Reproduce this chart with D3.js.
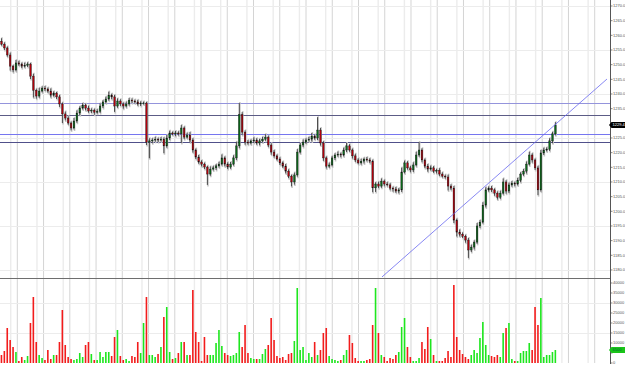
<!DOCTYPE html>
<html>
<head>
<meta charset="utf-8">
<script src="https://cdn.jsdelivr.net/npm/d3@7"></script>
<style>
    body { margin: 0; background: #fff; }
    svg { display: block; }
    .axis-label { font-family: "Liberation Sans", Arial, sans-serif; font-size: 4px; fill: #555; }
</style>
</head>
<body>
<div id="chart"></div>
<script>
(function () {
    'use strict';

    // closing prices, one per bar (open = previous close)
    var closes = [
        1257.0, 1255.7, 1253.3, 1249.5, 1248.2, 1250.6, 1250.2, 1249.5, 1249.8, 1250.2, 1246.1, 1241.3, 1239.3, 1241.0, 1242.0, 1241.7,
        1241.0, 1239.6, 1240.3, 1239.0, 1236.6, 1233.2, 1231.8, 1230.1, 1228.4, 1230.8, 1233.5, 1235.2, 1236.2, 1235.2, 1234.2, 1234.5,
        1233.8, 1234.1, 1235.9, 1237.3, 1238.3, 1239.6, 1239.0, 1235.9, 1237.6, 1236.6, 1235.9, 1236.6, 1237.9, 1237.6, 1237.3, 1236.6,
        1236.9, 1236.9, 1223.6, 1224.0, 1224.3, 1224.6, 1224.3, 1224.6, 1222.3, 1225.0, 1226.7, 1226.4, 1226.7, 1226.4, 1228.4, 1225.3,
        1226.0, 1224.3, 1220.9, 1218.5, 1216.8, 1216.1, 1215.1, 1212.7, 1214.4, 1214.8, 1215.5, 1216.1, 1218.2, 1216.1, 1215.1, 1216.1,
        1218.2, 1222.3, 1233.0, 1227.0, 1223.6, 1223.3, 1224.0, 1224.3, 1223.3, 1224.0, 1224.6, 1225.3, 1222.6, 1220.2, 1218.9, 1217.8,
        1216.5, 1215.4, 1213.7, 1212.0, 1210.0, 1212.4, 1220.2, 1222.6, 1223.6, 1224.3, 1224.6, 1225.6, 1225.0, 1227.7, 1223.3, 1218.2,
        1215.4, 1215.8, 1218.2, 1219.2, 1219.5, 1219.2, 1220.9, 1222.3, 1220.9, 1218.9, 1217.5, 1216.5, 1217.1, 1217.8, 1217.5, 1217.1,
        1208.0, 1209.3, 1208.6, 1210.3, 1209.3, 1209.0, 1207.9, 1207.6, 1206.9, 1207.3, 1213.4, 1216.5, 1214.8, 1214.1, 1215.8, 1219.2,
        1220.9, 1217.5, 1215.4, 1214.4, 1214.8, 1213.7, 1214.0, 1212.7, 1212.0, 1211.7, 1208.6, 1207.9, 1197.0, 1192.9, 1192.2, 1191.5,
        1190.2, 1186.8, 1187.8, 1189.5, 1195.0, 1196.3, 1202.1, 1207.3, 1207.9, 1207.3, 1206.2, 1204.8, 1206.2, 1210.0, 1206.9, 1209.0,
        1209.6, 1209.3, 1210.6, 1212.7, 1213.7, 1216.1, 1219.2, 1217.5, 1214.8, 1207.3, 1219.9, 1220.9, 1221.2, 1224.0, 1226.4, 1229.4
    ];
    var firstOpen = 1258.0;

    // wick length above the body / below the body, in price points
    var wickUp = [
        1.0, 0.6, 0.5, 0.8, 0.4, 1.0, 0.7, 0.5, 0.9, 0.6, 0.4, 0.8, 0.5, 1.1, 0.6, 0.7,
        0.5, 0.9, 0.6, 0.4, 0.7, 0.5, 0.8, 0.6, 0.5, 1.0, 0.9, 0.6, 0.7, 0.5, 0.8, 0.6,
        0.5, 0.7, 0.9, 0.6, 0.8, 1.2, 0.5, 0.7, 0.9, 0.6, 0.5, 0.8, 0.7, 0.6, 0.5, 0.7,
        0.6, 0.5, 0.4, 0.9, 0.6, 0.8, 0.5, 0.7, 0.6, 1.0, 0.8, 0.5, 0.7, 0.6, 1.0, 0.5,
        0.8, 1.0, 0.6, 0.5, 0.7, 0.6, 0.5, 0.4, 0.9, 0.7, 0.6, 0.8, 1.2, 0.5, 0.6, 0.7,
        0.9, 1.4, 3.9, 0.8, 0.6, 0.7, 0.5, 0.9, 0.6, 0.7, 0.8, 1.0, 0.5, 0.6, 0.7, 0.5,
        0.6, 0.5, 0.7, 0.6, 0.5, 0.8, 1.0, 0.7, 0.9, 0.6, 0.8, 1.1, 0.6, 4.4, 0.7, 0.6,
        0.5, 0.8, 0.7, 0.6, 0.9, 0.5, 0.8, 1.0, 0.6, 0.5, 0.7, 0.6, 0.8, 0.5, 0.7, 0.6,
        0.5, 0.6, 0.8, 0.9, 0.5, 0.7, 0.6, 0.5, 0.7, 0.6, 1.5, 0.8, 0.6, 0.7, 0.9, 1.1,
        2.7, 0.6, 0.5, 0.7, 0.8, 0.6, 0.5, 0.7, 0.6, 0.5, 0.8, 0.6, 0.7, 0.5, 0.9, 0.6,
        0.5, 0.7, 0.8, 0.6, 1.0, 0.7, 1.0, 0.9, 0.6, 0.7, 0.5, 0.6, 0.8, 1.2, 0.6, 0.8,
        0.7, 0.5, 0.8, 0.6, 0.7, 0.9, 1.1, 0.6, 0.5, 0.7, 1.0, 0.8, 0.6, 0.9, 0.7, 1.0
    ];
    var wickDown = [
        0.5, 0.7, 0.6, 1.5, 0.8, 0.5, 0.6, 0.7, 0.5, 0.6, 1.0, 2.5, 0.9, 0.6, 0.5, 0.7,
        0.6, 0.8, 0.5, 0.7, 1.0, 3.1, 0.8, 0.6, 0.8, 0.5, 0.6, 0.7, 0.5, 0.8, 0.6, 0.7,
        0.9, 0.5, 0.6, 0.7, 0.5, 0.6, 0.8, 2.0, 0.6, 0.7, 0.9, 0.5, 0.6, 0.7, 0.5, 0.6,
        0.7, 0.5, 1.0, 5.5, 0.8, 0.6, 0.7, 0.5, 2.5, 0.6, 0.7, 0.5, 0.8, 0.6, 3.1, 0.7,
        0.5, 0.8, 0.9, 0.7, 0.6, 0.8, 0.7, 3.7, 0.6, 0.5, 0.7, 0.6, 0.5, 0.8, 0.7, 0.6,
        0.5, 0.7, 0.8, 1.0, 0.9, 0.6, 0.5, 0.7, 0.6, 0.8, 0.5, 0.6, 0.7, 0.9, 0.6, 0.5,
        0.7, 0.6, 0.8, 0.7, 1.5, 0.9, 0.6, 0.5, 0.7, 0.6, 0.5, 0.8, 0.6, 0.7, 0.9, 1.0,
        0.8, 0.6, 0.5, 0.7, 0.6, 0.8, 0.5, 0.7, 0.6, 0.9, 0.7, 0.5, 0.6, 0.8, 0.5, 0.7,
        1.5, 1.4, 0.7, 0.6, 0.8, 0.5, 0.7, 0.9, 0.6, 0.8, 0.7, 0.5, 0.6, 0.8, 0.7, 0.5,
        0.6, 0.8, 0.7, 0.9, 0.5, 0.6, 0.8, 0.7, 0.5, 0.6, 1.5, 0.7, 1.0, 1.5, 0.8, 0.6,
        0.9, 2.7, 0.7, 0.8, 0.6, 0.7, 0.5, 0.8, 0.6, 0.7, 0.9, 0.8, 0.6, 0.5, 0.9, 0.7,
        0.6, 0.8, 0.5, 0.7, 0.6, 0.8, 0.5, 0.9, 0.7, 1.8, 0.6, 0.7, 0.5, 0.6, 0.8, 0.5
    ];

    var volumes = [
        4000, 6000, 17500, 11500, 8000, 5500, 1000, 3000, 1500, 3500, 20000, 33000, 10500, 4000, 2500, 1500,
        6500, 2000, 4000, 4000, 10500, 26500, 9000, 3000, 2000, 1500, 2000, 5000, 3000, 9000, 10500, 4500,
        1500, 1500, 5500, 3000, 5500, 5500, 3500, 13000, 16500, 3500, 1500, 2000, 1000, 3500, 3000, 10500,
        5000, 20000, 33000, 4000, 4000, 3000, 4500, 8000, 23000, 28000, 5500, 2000, 2500, 5000, 10500, 10500,
        4000, 4000, 36500, 15500, 10500, 1000, 13000, 4000, 4000, 4000, 10000, 16500, 8500, 5000, 4000, 3500,
        4000, 5000, 15500, 8000, 19000, 5000, 2500, 2000, 2000, 2000, 4500, 7000, 9000, 22500, 11500, 3500,
        2500, 3000, 1500, 4500, 5000, 11000, 37500, 6500, 8000, 1500, 5000, 3000, 10500, 4000, 6500, 15000,
        17500, 3500, 2000, 1500, 1000, 1500, 4000, 6500, 14000, 10000, 2500, 1000, 1000, 1000, 1500, 2000,
        19000, 37500, 15000, 4000, 3000, 1000, 2500, 2000, 4000, 5500, 18000, 22500, 8000, 3000, 1000, 1000,
        2500, 10500, 7000, 18000, 12000, 4000, 1000, 1000, 1000, 2500, 6000, 3000, 39000, 13000, 6500, 4500,
        3000, 2000, 4000, 6500, 5000, 12500, 20500, 9000, 4000, 3500, 3000, 4000, 3000, 15000, 17500, 20000,
        2000, 1000, 1000, 5000, 6000, 6000, 10000, 6500, 28000, 19000, 32500, 3000, 4000, 4000, 5500, 6500
    ];

    var priceTicks = [1270, 1265, 1260, 1255, 1250, 1245, 1240, 1235, 1230, 1225, 1220, 1215, 1210, 1205, 1200, 1195, 1190, 1185, 1180];
    var priceGridTicks = [1270, 1255, 1240, 1225, 1210, 1195, 1180];
    var volumeTicks = [40000, 35000, 30000, 25000, 20000, 15000, 10000, 5000, 0];
    var volumeGridTicks = [30000, 15000];

    // horizontal support / resistance levels
    var levels = [1236.8, 1232.8, 1226.4, 1223.8];
    var levelColors = ["#9494dc", "#5c5c86", "#7676f0", "#50508a"];

    // trend line anchors: [bar index, price]
    var trendLine = [[131.7, 1177.6], [209.3, 1245.1]];

    var width = 625,
        height = 366,
        plotRight = 610,
        priceTop = 0,
        priceBottom = 277,
        volTop = 278,
        volBottom = 363,
        barWidth = 1.6;

    var candles = closes.map(function (c, i) {
        var o = i === 0 ? firstOpen : closes[i - 1];
        return {
            i: i,
            open: o,
            close: c,
            high: Math.max(o, c) + wickUp[i],
            low: Math.min(o, c) - wickDown[i],
            volume: volumes[i],
            up: c >= o
        };
    });
    var last = candles[candles.length - 1];

    var x = d3.scaleLinear().domain([0, 210]).range([0, 609]);
    var y = d3.scaleLinear().domain([1177.6, 1272.05]).range([priceBottom, priceTop]);
    var yVol = d3.scaleLinear().domain([0, 42500]).range([volBottom, volTop]);

    var svg = d3.select('#chart').append('svg')
        .attr('width', width)
        .attr('height', height);

    svg.append('defs').append('clipPath')
        .attr('id', 'priceClip')
        .append('rect')
        .attr('x', 0).attr('y', priceTop)
        .attr('width', plotRight).attr('height', priceBottom - priceTop);

    // vertical session grid (light + dark lines every 9 bars)
    var grid = svg.append('g');
    grid.selectAll('.vgrid-light')
        .data(d3.range(3.7, 210, 9.05))
        .enter().append('line')
        .attr('x1', function (d) { return x(d); })
        .attr('x2', function (d) { return x(d); })
        .attr('y1', 0).attr('y2', volBottom)
        .attr('stroke', '#ececec')
        .attr('stroke-width', 1.4);
    grid.selectAll('.vgrid-dark')
        .data(d3.range(5.97, 210, 9.05))
        .enter().append('line')
        .attr('x1', function (d) { return x(d); })
        .attr('x2', function (d) { return x(d); })
        .attr('y1', 0).attr('y2', volBottom)
        .attr('stroke', '#d4d4d4')
        .attr('stroke-width', 1);

    grid.selectAll('.hgrid-price')
        .data(priceGridTicks)
        .enter().append('line')
        .attr('x1', 0).attr('x2', plotRight)
        .attr('y1', function (d) { return Math.round(y(d)) + 0.5; })
        .attr('y2', function (d) { return Math.round(y(d)) + 0.5; })
        .attr('stroke', '#ececec');
    grid.selectAll('.hgrid-vol')
        .data(volumeGridTicks)
        .enter().append('line')
        .attr('x1', 0).attr('x2', plotRight)
        .attr('y1', function (d) { return Math.round(yVol(d)) + 0.5; })
        .attr('y2', function (d) { return Math.round(yVol(d)) + 0.5; })
        .attr('stroke', '#ececec');

    // panel separator
    svg.append('line')
        .attr('x1', 0).attr('x2', plotRight)
        .attr('y1', volTop + 0.5).attr('y2', volTop + 0.5)
        .attr('stroke', '#6e6e6e');

    // volume bars
    svg.append('g').selectAll('rect')
        .data(candles)
        .enter().append('rect')
        .attr('x', function (d) { return x(d.i + 0.5) - barWidth / 2; })
        .attr('y', function (d) { return yVol(d.volume); })
        .attr('width', barWidth)
        .attr('height', function (d) { return volBottom - yVol(d.volume); })
        .attr('fill', function (d) { return d.up ? '#1ee61e' : '#f21c1c'; });

    // levels
    svg.append('g').selectAll('line')
        .data(levels)
        .enter().append('line')
        .attr('x1', 0).attr('x2', plotRight)
        .attr('y1', function (d) { return Math.round(y(d)) + 0.5; })
        .attr('y2', function (d) { return Math.round(y(d)) + 0.5; })
        .attr('stroke', function (d, i) { return levelColors[i]; })
        .attr('stroke-width', 1);

    // candles
    var candleG = svg.append('g').attr('clip-path', 'url(#priceClip)');
    var c = candleG.selectAll('.candle')
        .data(candles)
        .enter().append('g');

    c.append('line')
        .attr('x1', function (d) { return x(d.i + 0.5) + 0.6; })
        .attr('x2', function (d) { return x(d.i + 0.5) + 0.6; })
        .attr('y1', function (d) { return y(d.high) - 1; })
        .attr('y2', function (d) { return y(d.low) + 1.5; })
        .attr('stroke', '#c4c4c4')
        .attr('stroke-width', 1.6);
    c.append('line')
        .attr('x1', function (d) { return x(d.i + 0.5); })
        .attr('x2', function (d) { return x(d.i + 0.5); })
        .attr('y1', function (d) { return y(d.high); })
        .attr('y2', function (d) { return y(d.low); })
        .attr('stroke', '#222')
        .attr('stroke-width', 0.8);
    c.append('rect')
        .attr('x', function (d) { return x(d.i + 0.5) - barWidth / 2; })
        .attr('y', function (d) { return y(Math.max(d.open, d.close)); })
        .attr('width', barWidth)
        .attr('height', function (d) { return Math.max(0.6, Math.abs(y(d.open) - y(d.close))); })
        .attr('fill', function (d) { return d.up ? '#0b6a1a' : '#b3000c'; })
        .attr('stroke', '#111')
        .attr('stroke-width', 0.35);

    // trend line
    candleG.append('line')
        .attr('x1', x(trendLine[0][0])).attr('y1', y(trendLine[0][1]))
        .attr('x2', x(trendLine[1][0])).attr('y2', y(trendLine[1][1]))
        .attr('stroke', '#6a6af0')
        .attr('stroke-width', 0.8);

    // right axes
    var axisG = svg.append('g');
    axisG.append('line')
        .attr('x1', plotRight + 0.5).attr('x2', plotRight + 0.5)
        .attr('y1', 0).attr('y2', volBottom + 1)
        .attr('stroke', '#555');

    // tick labels hidden behind the last-value markers
    var pt = axisG.selectAll('.ptick')
        .data(priceTicks)
        .enter().append('g')
        .attr('transform', function (d) { return 'translate(' + plotRight + ',' + y(d) + ')'; });
    pt.append('line').attr('x1', 0).attr('x2', 2.5).attr('stroke', '#555').attr('stroke-width', 0.7);
    pt.filter(function (d) { return Math.abs(y(d) - y(last.close)) > 5; })
        .append('text')
        .attr('class', 'axis-label')
        .attr('x', 3)
        .attr('dy', '0.35em')
        .text(function (d) { return d3.format('.1f')(d); });

    var vt = axisG.selectAll('.vtick')
        .data(volumeTicks)
        .enter().append('g')
        .attr('transform', function (d) { return 'translate(' + plotRight + ',' + yVol(d) + ')'; });
    vt.append('line').attr('x1', 0).attr('x2', 2.5).attr('stroke', '#555').attr('stroke-width', 0.7);
    vt.filter(function (d) { return Math.abs(yVol(d) - yVol(last.volume)) > 5; })
        .append('text')
        .attr('class', 'axis-label')
        .attr('x', 3)
        .attr('dy', '0.35em')
        .text(function (d) { return d; });

    // last price / last volume markers
    function marker(yPos, fill, textFill, label) {
        var g = axisG.append('g').attr('transform', 'translate(' + plotRight + ',' + yPos + ')');
        g.append('path')
            .attr('d', 'M-1,0 L1.5,-3 L15,-3 L15,3 L1.5,3 Z')
            .attr('fill', fill);
        g.append('text')
            .attr('class', 'axis-label')
            .attr('x', 2.5)
            .attr('dy', '0.35em')
            .style('fill', textFill)
            .text(label);
    }
    marker(y(last.close), '#000', '#fff', d3.format('.1f')(last.close));
    marker(yVol(last.volume), '#19c419', '#063', last.volume);
})();
</script>
</body>
</html>
